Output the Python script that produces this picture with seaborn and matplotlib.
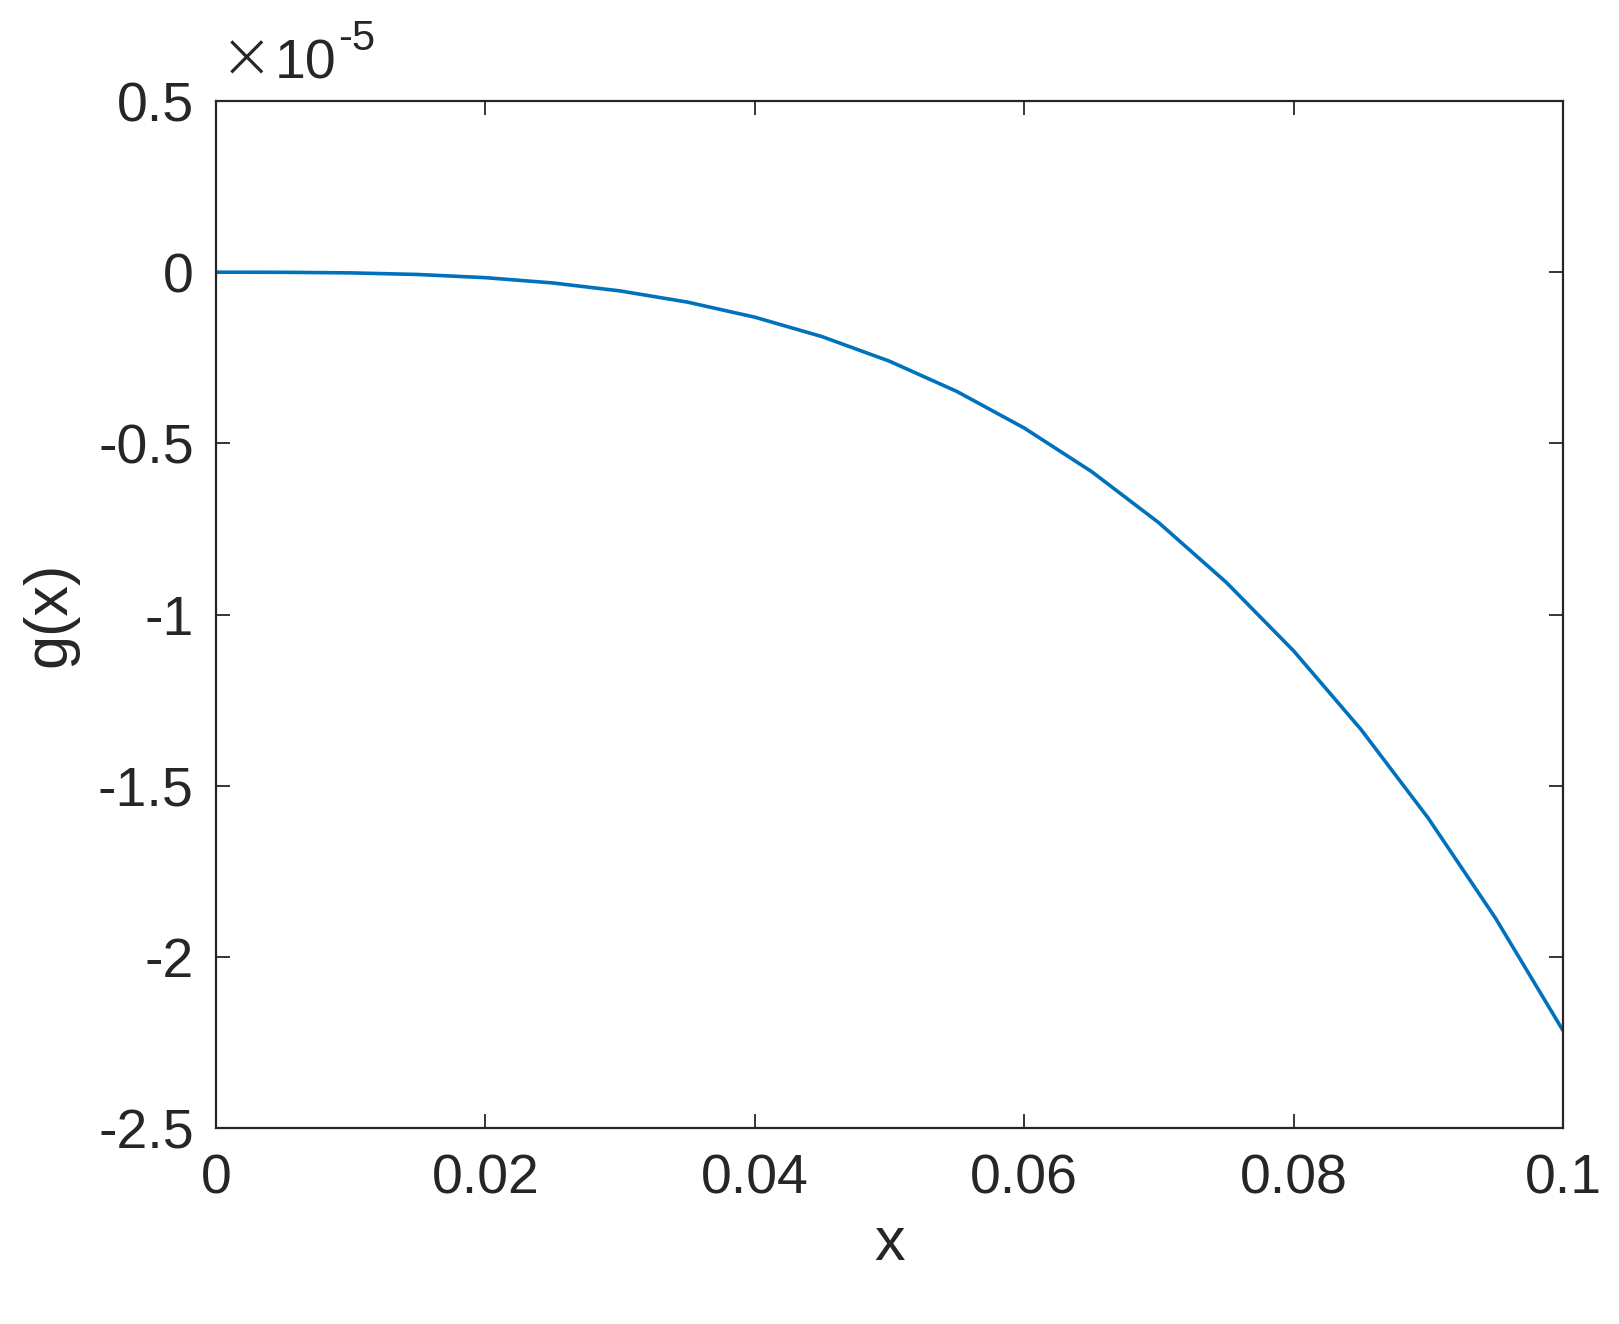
import matplotlib
matplotlib.use("Agg")
import matplotlib.pyplot as plt
import seaborn as sns
import pandas as pd
from matplotlib.ticker import FuncFormatter

# data (g in units of 1e-5)
x_vals = [0.0, 0.005, 0.01, 0.015, 0.02, 0.025, 0.03, 0.035, 0.04, 0.045, 0.05,
          0.055, 0.06, 0.065, 0.07, 0.075, 0.08, 0.085, 0.09, 0.095, 0.1]
g_vals = [0.0, -0.0003, -0.002, -0.0067, -0.016, -0.0314, -0.0547, -0.0874, -0.1314, -0.1883, -0.260,
          -0.3483, -0.4551, -0.5823, -0.732, -0.906, -1.106, -1.3355, -1.595, -1.8875, -2.215]
exponent_label = "-5"
x_ticks = [0, 0.02, 0.04, 0.06, 0.08, 0.1]
y_ticks = [0.5, 0, -0.5, -1, -1.5, -2, -2.5]

sns.set_theme(style="ticks")
plt.rcParams['font.family'] = ['Liberation Sans', 'DejaVu Sans']
plt.rcParams['axes.unicode_minus'] = False

df = pd.DataFrame({"x": x_vals, "g": g_vals})

fig = plt.figure(figsize=(16.19, 13.24), dpi=100)
ax = fig.add_axes([0.1334, 0.148, 0.832, 0.7757])
sns.lineplot(data=df, x="x", y="g", ax=ax, color="#0072BD", linewidth=2.6,
             solid_joinstyle="round", solid_capstyle="round")

ax.set_xlim(0, 0.1)
ax.set_ylim(-2.5, 0.5)
ax.set_xticks(x_ticks)
ax.set_yticks(y_ticks)
fmt = FuncFormatter(lambda v, p: "%g" % v)
ax.xaxis.set_major_formatter(fmt)
ax.yaxis.set_major_formatter(fmt)

edge = "#262626"
for s in ax.spines.values():
    s.set_visible(True)
    s.set_color(edge)
    s.set_linewidth(1.6)
ax.tick_params(axis='both', which='major', direction='in', length=10, width=1.3,
               color=edge, labelcolor=edge, labelsize=40,
               top=True, right=True)
ax.tick_params(axis='x', pad=18)
ax.tick_params(axis='y', pad=16)

ax.set_xlabel("x", fontsize=44, color=edge, labelpad=8)
ax.set_ylabel("g(x)", fontsize=44, color=edge, labelpad=14)

tx = ax.text(0.003, 1.010, "×", transform=ax.transAxes, family='DejaVu Sans',
             fontsize=46, fontweight='light', color=edge, ha='left', va='bottom')
t = ax.annotate("10", xy=(1.0, 0.0), xycoords=tx, xytext=(1, 0),
                textcoords='offset points', fontsize=40, color=edge,
                ha='left', va='bottom')
ax.annotate(exponent_label, xy=(1.0, 0.62), xycoords=t, xytext=(1, 0),
            textcoords='offset points', fontsize=30, color=edge,
            ha='left', va='bottom')

fig.savefig("out.png", dpi=100, facecolor="white")
